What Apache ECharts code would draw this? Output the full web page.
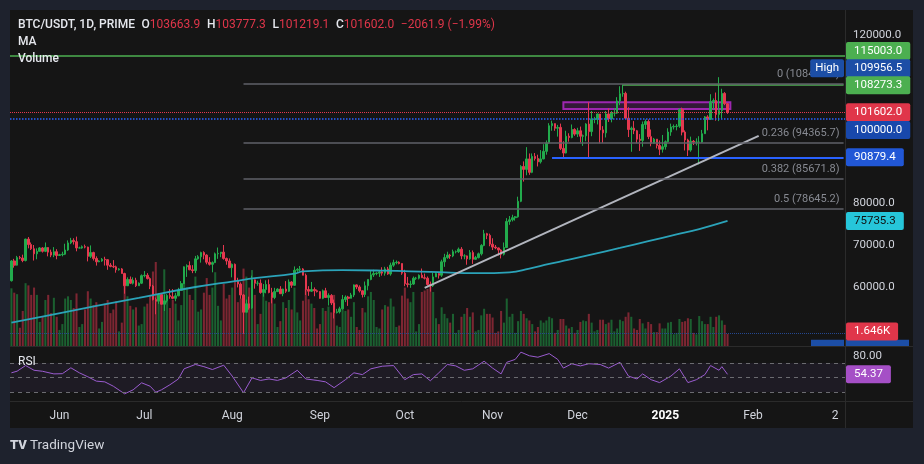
<!DOCTYPE html>
<html>
<head>
<meta charset="utf-8">
<title>BTC/USDT 1D</title>
<script src="https://cdn.jsdelivr.net/npm/echarts@6/dist/echarts.min.js"></script>
<style>
html, body { margin: 0; padding: 0; background: #1e222d; }
#container { width: 924px; height: 464px; }
</style>
</head>
<body>
<div id="container"></div>
<script>
// values, one entry per day from 2024-05-15
var firstDate = '2024-05-15';
var totalDays = 295;      // candles plus the empty space on the right
var prevClose = 61500;    // close of 2024-05-14, open of the first candle

var closes = [
  66200, 65200, 67000, 66900, 66300, 71400, 70100, 69100, 67900, 68500, 69300, 68500, 69400, 68300, 67600, 68400, 67500,
  67700, 67800, 68800, 70500, 71100, 70800, 69300, 69300, 69600, 69500, 67300, 68200, 66800, 66000, 66200, 66600, 66500, 65200, 64900, 64800, 64100, 64300, 63200, 60300, 61800, 60900, 61600, 60300, 60900, 62700,
  62800, 62000, 60200, 57000, 56600, 58200, 55900, 56700, 58000, 57700, 57300, 57900, 59200, 60800, 64800, 65100, 64100, 63900, 66700, 67200, 68200, 67600, 65900, 65400, 65800, 67900, 68000, 68300, 66800, 66200, 64600,
  65400, 61500, 60700, 58100, 54000, 56000, 55000, 61700, 60900, 60900, 58700, 59400, 60600, 58700, 57500, 58900, 59500, 58400, 59500, 59000, 61200, 60400, 64000, 64200, 64300, 62800, 59400, 59000, 59400, 59100, 58900,
  57300, 59100, 57500, 58000, 56200, 53900, 54100, 54800, 57000, 57600, 57300, 58100, 60500, 60000, 59100, 58200, 60300, 61800, 62900, 63200, 63300, 63600, 63300, 64300, 63100, 65200, 65800, 65900, 65600, 63300,
  60800, 60600, 60700, 62100, 62100, 62800, 62200, 62100, 60600, 60300, 62400, 63200, 62800, 66000, 67000, 67600, 67400, 68400, 68400, 69000, 67400, 67400, 66700, 68200, 66600, 67000, 67900, 69900, 72700, 72300, 70200,
  69500, 69300, 68800, 67800, 69400, 75600, 76000, 76500, 76700, 80400, 88700, 88000, 90500, 87300, 91100, 90600, 89800, 90500, 92300, 94300, 98400, 98900, 97800, 98000, 93000, 91900, 95900, 95600, 97500, 96400,
  97200, 95900, 96000, 98800, 97000, 99900, 99900, 101200, 97400, 96700, 101200, 100000, 101400, 101400, 104300, 106000, 106100, 100200, 97500, 97800, 97200, 95200, 94900, 98700, 99400, 95800, 94200, 95200, 93700, 92800, 93400,
  94600, 96900, 98100, 98200, 98300, 102300, 96900, 95000, 92600, 94700, 94500, 94500, 94500, 96500, 100500, 99900, 104100, 104400, 101100, 102000, 106100, 103663.9, 101602.0
];

var highs = [
  66400, 66700, 67400, 67400, 67700, 71500, 71900, 70600, 70000, 69200, 69500, 69500, 70600, 69500, 68900, 69500, 69000,
  67900, 68400, 70300, 71100, 71700, 71600, 72000, 69600, 69900, 70100, 69600, 69900, 68400, 67300, 66400, 66900, 67200, 66600, 65700, 66400, 65100, 64500, 64500, 63400, 62300, 62500, 62300, 62200, 61100, 63000,
  63800, 63300, 62300, 60500, 57500, 58500, 58400, 58200, 58300, 59500, 59500, 58600, 59800, 61400, 64900, 65400, 66100, 65200, 67400, 67600, 68400, 68500, 67800, 67100, 66100, 68200, 69400, 68300, 70000, 67000, 66800,
  65600, 65600, 62200, 61100, 58300, 57000, 57700, 62700, 61800, 61500, 61800, 60700, 61600, 61800, 59800, 59800, 59700, 60200, 59600, 61400, 61800, 61400, 64900, 64500, 65000, 64500, 63200, 60200, 61200, 59900, 59400,
  59000, 59400, 59800, 58500, 58300, 57000, 54800, 55300, 58100, 58000, 57900, 58600, 60600, 60600, 60400, 59200, 61300, 61800, 63800, 64100, 63500, 64000, 64700, 64800, 64800, 65800, 66500, 66300, 66100, 65600,
  64100, 62400, 61500, 62500, 62400, 63000, 64400, 63200, 62500, 61300, 63400, 63500, 63300, 66500, 67900, 68400, 67900, 68900, 68700, 69400, 69500, 67800, 67500, 68800, 68700, 67400, 68200, 70200, 73600, 72900, 72700,
  71600, 70000, 69400, 69000, 70600, 76400, 76900, 77200, 76900, 81500, 89000, 89900, 93300, 91800, 91800, 91900, 91500, 92600, 94000, 94900, 99000, 99600, 98900, 98600, 98900, 94700, 97200, 96600, 98700, 97800,
  97900, 98200, 96300, 99000, 104000, 101900, 100500, 101300, 101200, 98300, 101900, 102500, 101900, 102600, 105200, 107800, 108273.3, 106500, 102800, 98200, 99500, 97400, 96400, 99400, 99900, 99900, 97500, 95500, 95200, 94900, 96200,
  94900, 97800, 98900, 98700, 98800, 102500, 102700, 97300, 95300, 95800, 95000, 95400, 95900, 97400, 100700, 100900, 105900, 104900, 106300, 109956.5, 107200, 106400, 103777.3
];

var lows = [
  61300, 64600, 65100, 66600, 65900, 66100, 69200, 68800, 66300, 66600, 68500, 68200, 68300, 67300, 67100, 67100, 66600,
  67400, 67300, 67600, 68600, 70200, 70100, 68500, 69200, 69100, 69200, 66100, 66900, 66300, 65100, 65900, 66000, 65100, 64100, 64700, 64500, 63400, 63900, 63200, 58400, 60300, 60700, 60600, 60000, 60300, 60700,
  62300, 61800, 59500, 56800, 53500, 56000, 55800, 54300, 56300, 57200, 57100, 56600, 57800, 59200, 60700, 62400, 64000, 63300, 63300, 66500, 65800, 66600, 65400, 65100, 63500, 65700, 66700, 67100, 66500, 65300, 64500,
  62300, 61200, 59900, 57200, 48872, 54000, 54600, 54800, 59600, 60300, 58400, 57700, 58500, 58500, 56100, 57100, 58800, 58400, 57800, 58600, 58800, 59800, 60300, 63600, 63800, 62800, 58100, 57900, 58800, 57800, 58700,
  57200, 57100, 57400, 55600, 55700, 52500, 53700, 53700, 54600, 56400, 55500, 57300, 57600, 59500, 58700, 57500, 57600, 59200, 61600, 62400, 62800, 62400, 62700, 62700, 62900, 62700, 64800, 65400, 65400, 62900,
  60200, 59900, 59800, 60500, 61700, 61800, 62200, 61800, 60300, 58900, 60000, 62400, 62000, 62400, 64800, 66700, 66700, 67100, 68000, 68100, 66600, 66600, 65300, 66500, 65500, 66500, 66800, 67500, 69700, 71400, 69700,
  68800, 69000, 67500, 66800, 67500, 69300, 74800, 75600, 75800, 76500, 80200, 85100, 86600, 86700, 87100, 90100, 88700, 89400, 90400, 91500, 94100, 97200, 97200, 95800, 92600, 90800, 91800, 94600, 95400, 96000,
  95700, 94400, 93600, 94700, 90600, 95900, 99000, 98700, 94200, 94300, 95600, 99300, 99200, 100600, 101200, 103300, 105300, 100000, 95700, 92200, 96400, 94200, 92400, 93400, 97600, 95200, 93500, 94100, 93000, 91400, 92000,
  92700, 94400, 96000, 97500, 97300, 97900, 96100, 92500, 91200, 92200, 93800, 93700, 89200, 94300, 96500, 97300, 99900, 102300, 99600, 99500, 100100, 103300, 101219.1
];

// volume in thousands
var volumes = [
  7.9, 7.3, 7.1, 2.5, 4.8, 8.6, 8.3, 7.0, 8.0, 7.0, 3.3, 4.0, 6.3, 7.0, 4.5, 6.6, 4.0,
  2.2, 3.0, 6.5, 6.8, 6.3, 5.2, 7.2, 2.6, 3.0, 5.0, 7.5, 6.5, 5.6, 6.0, 2.4, 3.3, 5.8, 6.3, 4.5, 5.0, 6.1, 2.0, 3.2, 9.0, 6.8, 5.5, 5.0, 5.3, 2.8, 3.0,
  5.4, 5.8, 7.0, 10.2, 11.5, 6.0, 6.6, 10.5, 6.2, 5.2, 6.3, 5.8, 3.5, 5.6, 8.6, 8.0, 7.0, 6.3, 9.5, 4.7, 5.0, 7.3, 9.3, 7.0, 8.0, 10.1, 5.5, 3.5, 8.5, 6.5, 7.0,
  8.0, 9.0, 6.0, 6.5, 10.6, 9.5, 8.0, 10.4, 7.0, 3.0, 4.4, 7.3, 6.2, 6.0, 6.8, 5.8, 2.6, 3.4, 6.0, 5.2, 6.3, 5.0, 8.0, 4.6, 3.5, 6.2, 7.8, 6.4, 5.8, 5.2, 2.4,
  3.0, 5.2, 4.8, 5.4, 4.6, 7.0, 2.8, 2.6, 5.0, 4.8, 5.0, 4.0, 6.0, 2.6, 2.2, 5.2, 4.6, 6.8, 7.4, 6.3, 2.6, 2.4, 5.0, 5.6, 5.4, 6.5, 5.4, 2.6, 2.8, 6.9,
  8.0, 6.5, 6.0, 7.4, 2.0, 3.0, 7.4, 7.6, 7.8, 8.1, 7.4, 3.8, 3.0, 5.3, 4.4, 3.8, 3.2, 4.4, 1.8, 2.2, 4.0, 4.4, 5.2, 4.0, 4.6, 2.0, 2.2, 4.2, 5.1, 4.4, 4.4,
  3.9, 1.8, 2.0, 4.8, 3.2, 6.5, 4.0, 4.4, 1.8, 3.4, 4.8, 4.4, 3.8, 3.5, 3.0, 2.0, 2.6, 3.5, 3.2, 3.5, 4.0, 3.8, 1.8, 2.2, 3.7, 3.7, 2.8, 2.4, 2.6, 1.8,
  2.2, 3.3, 3.5, 3.4, 4.4, 3.2, 2.0, 2.2, 3.6, 3.6, 3.0, 3.2, 3.6, 2.0, 2.4, 3.6, 3.4, 4.0, 4.6, 4.0, 2.4, 2.2, 3.7, 3.1, 2.4, 3.3, 3.0, 1.9, 1.9, 3.1, 2.4,
  2.4, 3.2, 3.3, 1.6, 1.8, 3.7, 3.3, 3.4, 3.8, 3.7, 1.8, 1.6, 4.1, 3.4, 3.0, 3.0, 4.0, 2.6, 4.0, 4.2, 3.5, 2.9, 1.646
];

// moving average, read at a few dates
var maPoints = [
  ['2024-05-15', 51500], ['2024-05-30', 53500], ['2024-06-14', 55500], ['2024-06-29', 57400],
  ['2024-07-19', 60000], ['2024-08-02', 61400], ['2024-08-09', 62100], ['2024-08-23', 63200],
  ['2024-08-26', 63700], ['2024-09-09', 64000], ['2024-09-23', 63900], ['2024-10-10', 63600],
  ['2024-10-27', 63300], ['2024-11-07', 63500], ['2024-11-14', 64400], ['2024-11-21', 65500],
  ['2024-11-28', 66500], ['2024-12-05', 67600], ['2024-12-16', 69300], ['2024-12-26', 70900],
  ['2025-01-05', 72500], ['2025-01-13', 73800], ['2025-01-23', 75735.3]
];

var rsiPoints = [
  ['2024-05-15', 56.5], ['2024-05-17', 58.7], ['2024-05-20', 66.5], ['2024-05-23', 60], ['2024-05-26', 58.6],
  ['2024-05-30', 55], ['2024-06-02', 55.3], ['2024-06-05', 63.4], ['2024-06-08', 56.5], ['2024-06-11', 51],
  ['2024-06-14', 45], ['2024-06-17', 44], ['2024-06-20', 38], ['2024-06-24', 27.5], ['2024-06-27', 33],
  ['2024-06-30', 42.7], ['2024-07-03', 38], ['2024-07-05', 29.7], ['2024-07-07', 33], ['2024-07-10', 40],
  ['2024-07-13', 48], ['2024-07-15', 62], ['2024-07-19', 68], ['2024-07-22', 65], ['2024-07-25', 61],
  ['2024-07-29', 67], ['2024-08-01', 52], ['2024-08-05', 29], ['2024-08-08', 49.5], ['2024-08-11', 46],
  ['2024-08-14', 48], ['2024-08-17', 46], ['2024-08-20', 49.5], ['2024-08-24', 60], ['2024-08-27', 48],
  ['2024-08-31', 46], ['2024-09-03', 44], ['2024-09-06', 36], ['2024-09-10', 47], ['2024-09-13', 56.5],
  ['2024-09-16', 54], ['2024-09-19', 62], ['2024-09-23', 65.6], ['2024-09-27', 66.5], ['2024-10-01', 47],
  ['2024-10-04', 54], ['2024-10-07', 55], ['2024-10-10', 45.5], ['2024-10-13', 56.5], ['2024-10-16', 68],
  ['2024-10-19', 66], ['2024-10-22', 60], ['2024-10-25', 62], ['2024-10-29', 72.5], ['2024-11-01', 63],
  ['2024-11-04', 55], ['2024-11-06', 71], ['2024-11-09', 75], ['2024-11-11', 85], ['2024-11-14', 80],
  ['2024-11-17', 78], ['2024-11-21', 83], ['2024-11-24', 75], ['2024-11-26', 63], ['2024-11-29', 69],
  ['2024-12-02', 66], ['2024-12-05', 69], ['2024-12-09', 68], ['2024-12-12', 63], ['2024-12-16', 71],
  ['2024-12-19', 52], ['2024-12-22', 48], ['2024-12-24', 55], ['2024-12-27', 47], ['2024-12-30', 43],
  ['2025-01-03', 52], ['2025-01-06', 62], ['2025-01-09', 43], ['2025-01-12', 47], ['2025-01-15', 54],
  ['2025-01-17', 66.5], ['2025-01-20', 60], ['2025-01-21', 65], ['2025-01-23', 54.37]
];

var fibLevels = [['0', 108418.5], ['0.236', 94365.7], ['0.382', 85671.8], ['0.5', 78645.2]];
var fibStart = '2024-08-05';
var fibLow = 48872.0;
var targetLine = 115003.0;
var decHigh = 108273.3, decHighDate = '2024-12-17';
var supportLine = 90879.4, supportDate = '2024-11-22';
var roundLevel = 100000.0;
var allTimeHigh = 109956.5;
var boxFrom = ['2024-11-26', 104000], boxTo = ['2025-01-24', 102400];
var trendFrom = ['2024-10-08', 59800], trendTo = ['2025-02-03', 96000];

var monthTicks = {
  '2024-06-01': 'Jun', '2024-07-01': 'Jul', '2024-08-01': 'Aug', '2024-09-01': 'Sep',
  '2024-10-01': 'Oct', '2024-11-01': 'Nov', '2024-12-01': 'Dec', '2025-01-01': '2025',
  '2025-02-01': 'Feb', '2025-03-02': '2'
};
var priceTicksShown = [120000, 80000, 70000, 60000];

var UP = '#22ab4c', DOWN = '#e5384f';
var FONT = 'Roboto, "DejaVu Sans", sans-serif';

var dates = [];
var t0 = Date.parse(firstDate + 'T00:00:00Z');
for (var i = 0; i < totalDays; i++) {
  dates.push(new Date(t0 + i * 86400000).toISOString().slice(0, 10));
}
var lastDate = dates[dates.length - 1];

var opens = [];
var candles = [];
var vols = [];
for (var i = 0; i < closes.length; i++) {
  var o = i ? closes[i - 1] : prevClose;
  opens.push(o);
  candles.push([o, closes[i], lows[i], highs[i]]);
  vols.push({
    value: volumes[i],
    itemStyle: { color: closes[i] >= o ? 'rgba(34,171,76,0.5)' : 'rgba(229,56,79,0.5)' }
  });
}
var n = closes.length - 1;
var lastClose = closes[n];

var lineItems = [
  { yAxis: targetLine, lineStyle: { color: '#4caf50', width: 1.5, type: 'solid' } },
  { yAxis: lastClose, lineStyle: { color: DOWN, width: 1, type: 'dotted' } },
  { yAxis: roundLevel, lineStyle: { color: '#2962ff', width: 1.5, type: 'dotted' } },
  { yAxis: fibLow, lineStyle: { color: '#24478f', width: 1, type: 'dotted' } },
  [{ coord: [decHighDate, decHigh], lineStyle: { color: '#4caf50', width: 1.5, type: 'solid' } }, { coord: [lastDate, decHigh] }],
  [{ coord: [supportDate, supportLine], lineStyle: { color: '#2962ff', width: 2, type: 'solid' } }, { coord: [lastDate, supportLine] }],
  [{ coord: trendFrom, lineStyle: { color: '#b2b5be', width: 2, type: 'solid' } }, { coord: trendTo }]
];
fibLevels.forEach(function (f) {
  lineItems.push([
    {
      coord: [fibStart, f[1]],
      lineStyle: { color: '#5f6068', width: 1.5, type: 'solid' },
      label: {
        show: true, position: 'insideEndTop', distance: 4,
        formatter: f[0] + ' (' + f[1].toFixed(1) + ')',
        color: '#878a92', fontSize: 11, fontFamily: FONT
      }
    },
    { coord: [lastDate, f[1]] }
  ]);
});

var chart = echarts.init(document.getElementById('container'));
chart.setOption({
  backgroundColor: '#1e222d',
  animation: false,
  grid: [
    { left: 10, right: 79, top: 10, height: 336, containLabel: false, outerBoundsMode: 'none' },
    { left: 10, right: 79, top: 347, height: 54, containLabel: false, outerBoundsMode: 'none' }
  ],
  xAxis: [
    {
      type: 'category', gridIndex: 0, data: dates, boundaryGap: true,
      axisLine: { show: false }, axisTick: { show: false }, axisLabel: { show: false }, splitLine: { show: false }
    },
    {
      type: 'category', gridIndex: 1, data: dates, boundaryGap: true,
      axisLine: { show: false }, axisTick: { show: false }, splitLine: { show: false },
      axisLabel: {
        margin: 9, color: '#d1d4dc', fontSize: 12, fontFamily: FONT, hideOverlap: false,
        interval: function (idx, v) { return monthTicks.hasOwnProperty(v); },
        formatter: function (v) { return v === '2025-01-01' ? '{b|2025}' : (monthTicks[v] || ''); },
        rich: { b: { fontWeight: 'bold', color: '#ffffff', fontSize: 12, fontFamily: FONT } }
      }
    }
  ],
  yAxis: [
    {
      type: 'value', gridIndex: 0, position: 'right', min: 45952, max: 125952, splitNumber: 8, scale: true,
      axisLine: { show: false }, axisTick: { show: false }, splitLine: { show: false },
      axisLabel: {
        margin: 8, color: '#d1d4dc', fontSize: 11.5, fontFamily: FONT, showMinLabel: false, showMaxLabel: false,
        formatter: function (v) { return priceTicksShown.indexOf(v) >= 0 ? v.toFixed(1) : ''; }
      }
    },
    { type: 'value', gridIndex: 0, min: 0, max: 46, show: false },
    {
      type: 'value', gridIndex: 1, position: 'right', min: 17.6, max: 92.1, splitNumber: 4,
      axisLine: { show: false }, axisTick: { show: false }, splitLine: { show: false },
      axisLabel: {
        margin: 8, color: '#d1d4dc', fontSize: 11.5, fontFamily: FONT, showMinLabel: false, showMaxLabel: false,
        formatter: function (v) { return v === 80 ? '80.00' : ''; }
      }
    }
  ],
  series: [
    {
      type: 'bar', name: 'Volume', xAxisIndex: 0, yAxisIndex: 1, data: vols,
      barWidth: '72%', z: 1, silent: true
    },
    {
      type: 'candlestick', name: 'BTC/USDT', xAxisIndex: 0, yAxisIndex: 0, data: candles,
      barWidth: '72%', z: 3, silent: true,
      itemStyle: { color: UP, color0: DOWN, borderColor: UP, borderColor0: DOWN, borderWidth: 1 },
      markLine: { symbol: ['none', 'none'], silent: true, animation: false, label: { show: false }, data: lineItems },
      markArea: {
        silent: true,
        itemStyle: { color: 'rgba(156,39,176,0.22)', borderColor: '#9c27b0', borderWidth: 2 },
        data: [[{ coord: boxFrom }, { coord: boxTo }]]
      }
    },
    {
      type: 'line', name: 'MA', xAxisIndex: 0, yAxisIndex: 0, data: maPoints, smooth: true,
      showSymbol: false, z: 4, silent: true, lineStyle: { color: '#2ba3b9', width: 1.8 }
    },
    {
      type: 'line', name: 'RSI', xAxisIndex: 1, yAxisIndex: 2, data: rsiPoints,
      showSymbol: false, z: 4, silent: true, lineStyle: { color: '#9a5bcf', width: 1 },
      markLine: {
        symbol: ['none', 'none'], silent: true, label: { show: false },
        lineStyle: { color: '#6b6b70', type: [4, 4], width: 1 },
        data: [{ yAxis: 70 }, { yAxis: 50 }, { yAxis: 30 }]
      },
      markArea: {
        silent: true, itemStyle: { color: 'rgba(126,87,194,0.09)' },
        data: [[{ yAxis: 30 }, { yAxis: 70 }]]
      }
    }
  ]
});

// price tags on the right scale
function yOf(axis, v) { return chart.convertToPixel({ yAxisIndex: axis }, v); }
var axisX = 924 - 79 + 1;
var tags = [
  { axis: 0, value: targetLine, dy: -5, bg: '#4caf50' },
  { axis: 0, value: allTimeHigh, dy: -9, bg: '#1c4ea6', side: 'High' },
  { axis: 0, value: decHigh, dy: 1, bg: '#4caf50' },
  { axis: 0, value: lastClose, dy: 0, bg: '#e0364a' },
  { axis: 0, value: roundLevel, dy: 11, bg: '#1848ac' },
  { axis: 0, value: supportLine, dy: 0, bg: '#2157d6' },
  { axis: 0, value: maPoints[maPoints.length - 1][1], dy: 0, bg: '#26c6da', fg: '#101010' },
  { axis: 1, value: volumes[n], text: volumes[n].toFixed(3) + 'K', dy: -2.5, bg: '#e0364a' },
  { axis: 2, value: rsiPoints[rsiPoints.length - 1][1], text: rsiPoints[rsiPoints.length - 1][1].toFixed(2), dy: 0, bg: '#a54fc6' }
];

var g = [
  { type: 'rect', z: -10, shape: { x: 10, y: 10, width: 903, height: 418 }, style: { fill: '#151515' } },
  { type: 'line', z: 20, shape: { x1: 845.5, y1: 10, x2: 845.5, y2: 428 }, style: { stroke: '#2b2b2b', lineWidth: 1 } },
  { type: 'line', z: 20, shape: { x1: 10, y1: 346.5, x2: 913, y2: 346.5 }, style: { stroke: '#2b2b2b', lineWidth: 1 } },
  { type: 'line', z: 20, shape: { x1: 10, y1: 401.5, x2: 913, y2: 401.5 }, style: { stroke: '#2b2b2b', lineWidth: 1 } }
];

tags.forEach(function (t) {
  var y = yOf(t.axis, t.value) + t.dy;
  g.push({
    type: 'text', z: 50, x: axisX, y: y,
    style: {
      text: t.text || t.value.toFixed(1), fill: t.fg || '#ffffff', backgroundColor: t.bg,
      padding: [3, 8, 3, 8], borderRadius: 2, font: '11.5px ' + FONT, verticalAlign: 'middle', align: 'left'
    }
  });
  if (t.side) {
    g.push({
      type: 'text', z: 50, x: axisX - 2, y: y,
      style: {
        text: t.side, fill: '#ffffff', backgroundColor: t.bg, padding: [3, 5, 3, 5], borderRadius: 2,
        font: '11.5px ' + FONT, verticalAlign: 'middle', align: 'right'
      }
    });
  }
});

// the "Low" tag is pushed below the volume tag and mostly hidden by the RSI pane
var lowTop = yOf(0, fibLow) + 6;
var paneBottom = yOf(0, 45952);
g.push({ type: 'rect', z: 49, shape: { x: axisX - 35, y: lowTop, width: 33, height: paneBottom - lowTop }, style: { fill: '#1c4ea6' } });
g.push({ type: 'rect', z: 49, shape: { x: axisX, y: lowTop, width: 63, height: paneBottom - lowTop }, style: { fill: '#1c4ea6' } });

// header and pane titles
var chg = lastClose - opens[n];
var pct = chg / opens[n] * 100;
function fmtSigned(v) { return (v < 0 ? '\u2212' : '+') + Math.abs(v).toFixed(1); }
g.push({
  type: 'text', z: 50, x: 18, y: 25,
  style: {
    text: '{w|BTC/USDT, 1D, PRIME}  {w|O}{r|' + opens[n].toFixed(1) + '}  {w|H}{r|' + highs[n].toFixed(1) +
      '}  {w|L}{r|' + lows[n].toFixed(1) + '}  {w|C}{r|' + lastClose.toFixed(1) + '}  {r|' + fmtSigned(chg) +
      ' (' + (pct < 0 ? '\u2212' : '+') + Math.abs(pct).toFixed(2) + '%)}',
    verticalAlign: 'middle',
    rich: {
      w: { fill: '#e6e8ee', font: '500 12px ' + FONT },
      r: { fill: '#e0364a', font: '12px ' + FONT }
    }
  }
});
g.push({ type: 'text', z: 50, x: 18, y: 42, style: { text: 'MA', fill: '#e6e8ee', font: '500 12px ' + FONT, verticalAlign: 'middle' } });
g.push({ type: 'text', z: 50, x: 18, y: 59, style: { text: 'Volume', fill: '#e6e8ee', font: '500 12px ' + FONT, verticalAlign: 'middle' } });
g.push({ type: 'text', z: 50, x: 18, y: 362, style: { text: 'RSI', fill: '#e6e8ee', font: '12px ' + FONT, verticalAlign: 'middle' } });

// footer logo
g.push({ type: 'text', z: 50, x: 10, y: 446, style: { text: 'TV', fill: '#d1d4dc', font: '900 13px ' + FONT, verticalAlign: 'middle' } });
g.push({ type: 'text', z: 50, x: 30, y: 446, style: { text: 'TradingView', fill: '#d1d4dc', font: '13.5px ' + FONT, verticalAlign: 'middle' } });

chart.setOption({ graphic: { elements: g } });
</script>
</body>
</html>
